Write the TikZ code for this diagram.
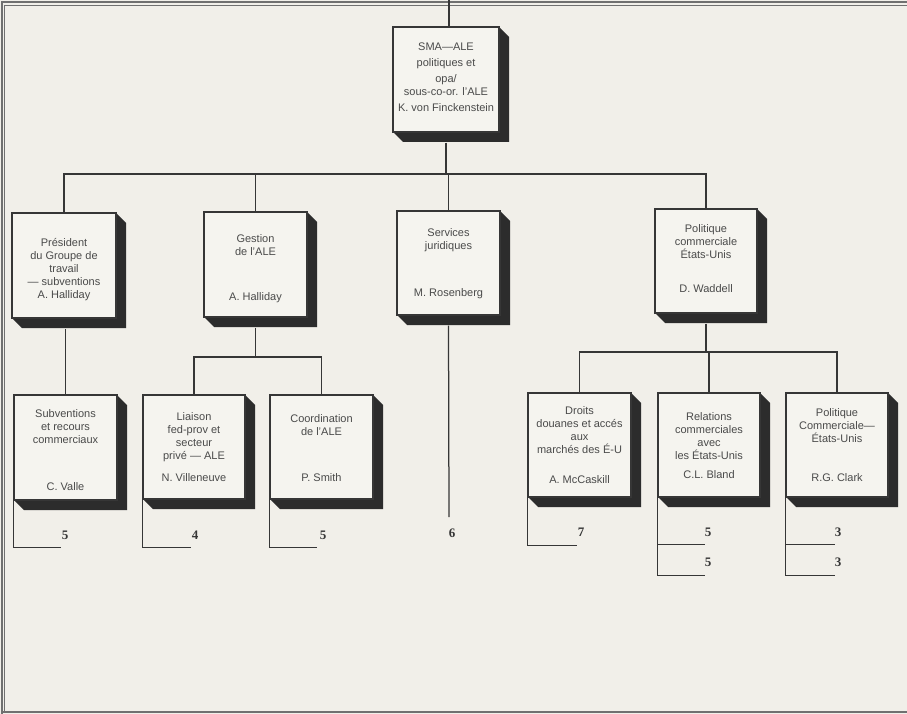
\documentclass[tikz,border=0pt]{standalone}
\usepackage{fontspec}
\setmainfont{Liberation Sans}
\newfontfamily\numfont{Liberation Serif}
\definecolor{bgc}{HTML}{F1EFE9}
\definecolor{boxc}{HTML}{F5F4EF}
\definecolor{linec}{HTML}{363636}
\definecolor{shadowc}{HTML}{2C2C2C}
\definecolor{txtc}{HTML}{4A4A4A}
\definecolor{framec}{HTML}{707070}
\tikzset{
  boxst/.style={draw=linec, line width=1.1pt, fill=boxc, inner sep=0pt},
  txt/.style={text=txtc, align=center, inner sep=0pt, font=\fontsize{11}{13}\selectfont},
  num/.style={text=linec, inner sep=0pt, font=\numfont\bfseries\fontsize{13}{13}\selectfont},
  conn/.style={draw=linec, line width=1.25pt},
  framest/.style={draw=framec, line width=1.1pt}
}
\newcommand{\obox}[9]{%
  \fill[shadowc] ({#4},{#3}) -- ({#4+10},{#3+10}) -- ({#4+10},{#5+10}) -- ({#2+10},{#5+10}) -- ({#2},{#5}) -- cycle;
  \node[boxst, minimum width={(#4-#2)*1pt}, minimum height={(#5-#3)*1pt}] (#1) at ({(#2+#4)/2},{(#3+#5)/2}) {};
  \node[txt, anchor=north] (#1-t) at ({(#2+#4)/2},{#7-4.5}) {#6};
  \node[txt] (#1-p) at ({(#2+#4)/2},{#9}) {#8};
}
\begin{document}
\begin{tikzpicture}[x=1pt,y=-1pt]
\useasboundingbox (0,0) rectangle (907,714);
\fill[bgc] (0,0) rectangle (907,714);
% frame
\draw[framest] (2,714) -- (2,2) -- (907,2);
\draw[framest] (4.8,712) -- (4.8,5.5) -- (907,5.5);
\draw[framest] (2,712) -- (907,712);

\coordinate (tin) at (449,0);
\coordinate (bus1) at (0,174);
\coordinate (bus2) at (0,357);
\coordinate (bus3) at (0,352);

% boxes
\obox{top}{393}{27}{499}{132}{SMA---ALE\\[3pt]politiques et\\[3pt]opa/\\sous-co-or. l'ALE}{47}{K. von Finckenstein}{108}
\obox{b1}{12}{213}{116}{318}{Président\\du Groupe de\\travail\\--- subventions\\A. Halliday}{243}{}{296}
\obox{b2}{204}{212}{307}{317}{Gestion\\de l'ALE}{239}{A. Halliday}{298}
\obox{b3}{397}{211}{500}{315}{Services\\juridiques}{233}{M. Rosenberg}{294}
\obox{b4}{655}{209}{757}{313}{Politique\\commerciale\\États-Unis}{229}{D. Waddell}{289}

\obox{c1}{14}{395}{117}{500}{Subventions\\et recours\\commerciaux}{414}{C. Valle}{487}
\obox{c2}{143}{395}{245}{499}{Liaison\\fed-prov et\\secteur\\privé --- ALE}{417}{N. Villeneuve}{478}
\obox{c3}{270}{395}{373}{499}{Coordination\\de l'ALE}{419}{P. Smith}{478}

\obox{d1}{528}{393}{631}{497}{Droits\\douanes et accés\\aux\\marchés des É-U}{411}{A. McCaskill}{480}
\obox{d2}{658}{393}{760}{497}{Relations\\commerciales\\avec\\les États-Unis}{417}{C.L. Bland}{475}
\obox{d3}{786}{393}{888}{497}{Politique\\Commerciale---\\États-Unis}{413}{R.G. Clark}{478}

% connectors
\draw[conn] (tin) -- (tin |- top.north);
\draw[conn] (top.south) ++(0,10) -- (top.south |- bus1);
\draw[conn] (b1.north) -- (b1.north |- bus1) -| (b4.north);
\draw[conn] (b2.north) -- (b2.north |- bus1);
\draw[conn] (b3.north) -- (b3.north |- bus1);

\draw[conn] (c1.north) -- ([yshift=-10pt]c1.north |- b1.south);

\draw[conn] ([yshift=-10pt]b2.south) -- (b2.south |- bus2);
\draw[conn] (c2.north) -- (c2.north |- bus2) -| (c3.north);

\draw[conn] ([yshift=-10pt]b4.south) -- (b4.south |- bus3);
\draw[conn] (d1.north) -- (d1.north |- bus3) -| (d3.north);
\draw[conn] (d2.north) -- (d2.north |- bus3);

% Services line
\coordinate (s6) at (449,517);
\draw[conn] ([yshift=-10pt]b3.south) -- (s6);
\node[num] (n6) at (452,533) {6};

% brackets
\draw[conn] (c1.south west) -- ++(0,47) -- ++(48,0);
\node[num] (n1) at (65,535) {5};
\draw[conn] (c2.south west) -- ++(0,48) -- ++(49,0);
\node[num] (n2) at (195,535) {4};
\draw[conn] (c3.south west) -- ++(0,48) -- ++(48,0);
\node[num] (n3) at (323,535) {5};

\draw[conn] (d1.south west) -- ++(0,48) -- ++(50,0);
\node[num] (n4) at (581,532) {7};
\draw[conn] (d2.south west) -- ++(0,78) -- ++(48,0);
\draw[conn] ([yshift=-47pt]d2.south west) -- ++(48,0);
\node[num] (n5) at (708,532) {5};
\node[num] (n5b) at (708,562) {5};
\draw[conn] (d3.south west) -- ++(0,78) -- ++(50,0);
\draw[conn] ([yshift=-47pt]d3.south west) -- ++(50,0);
\node[num] (n7) at (838,532) {3};
\node[num] (n7b) at (838,562) {3};
\end{tikzpicture}
\end{document}
